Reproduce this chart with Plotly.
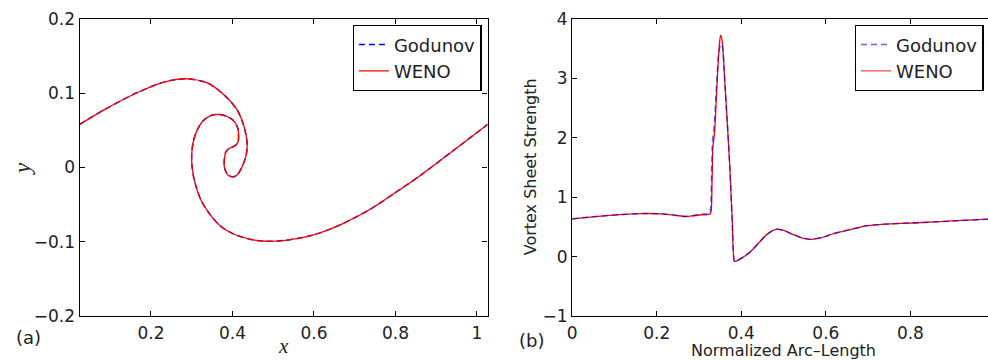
import plotly.graph_objects as go

# ---------------- data: panel (a) vortex sheet position ----------------
sheet_x = [0.025, 0.086, 0.167, 0.232, 0.285, 0.338, 0.379, 0.411, 0.428, 0.436,
           0.434, 0.423, 0.413, 0.403, 0.391, 0.385, 0.380, 0.380, 0.383, 0.390,
           0.400, 0.408, 0.414, 0.415, 0.414, 0.410, 0.401, 0.386, 0.368, 0.347,
           0.328, 0.314, 0.304, 0.300, 0.301, 0.306, 0.322, 0.342, 0.371, 0.403,
           0.442, 0.484, 0.525, 0.574, 0.615, 0.671, 0.737, 0.793, 0.8585, 0.94, 1.026]
sheet_y = [0.058, 0.078, 0.101, 0.115, 0.1195, 0.114, 0.098, 0.078, 0.056, 0.033,
           0.0175, 0.0, -0.009, -0.0125, -0.011, -0.007, 0.0013, 0.0094, 0.0198, 0.025,
           0.0276, 0.030, 0.035, 0.042, 0.051, 0.057, 0.064, 0.069, 0.0714, 0.070,
           0.063, 0.051, 0.035, 0.0175, 0.0013, -0.016, -0.043, -0.061, -0.079, -0.0896,
           -0.0966, -0.0993, -0.0984, -0.0942, -0.088, -0.0755, -0.0566, -0.0364, -0.0117, 0.022, 0.058]

# ---------------- data: panel (b) vortex sheet strength ----------------
arc_weno = [0.0, 0.055, 0.11, 0.165, 0.212, 0.245, 0.267, 0.285, 0.30, 0.326,
            0.329, 0.331, 0.333, 0.337, 0.343, 0.348, 0.351, 0.355, 0.361, 0.367,
            0.373, 0.379, 0.384, 0.39, 0.40, 0.42, 0.44, 0.46, 0.482, 0.50,
            0.52, 0.541, 0.562, 0.59, 0.62, 0.66, 0.698, 0.75, 0.816, 0.90, 0.984]
gamma_weno = [0.635, 0.674, 0.705, 0.725, 0.72, 0.695, 0.675, 0.685, 0.70, 0.715,
              0.78, 1.3, 1.85, 2.1, 2.95, 3.55, 3.73, 3.62, 2.95, 2.25,
              1.50, 0.55, -0.08, -0.07, -0.03, 0.07, 0.22, 0.37, 0.46, 0.44,
              0.38, 0.32, 0.29, 0.32, 0.39, 0.46, 0.52, 0.55, 0.57, 0.60, 0.63]

arc_godunov = [0.0, 0.055, 0.11, 0.165, 0.212, 0.245, 0.267, 0.285, 0.30, 0.325,
               0.328, 0.330, 0.332, 0.336, 0.342, 0.347, 0.352, 0.356, 0.361, 0.367,
               0.373, 0.379, 0.384, 0.39, 0.40, 0.42, 0.44, 0.46, 0.482, 0.50,
               0.52, 0.541, 0.562, 0.59, 0.62, 0.66, 0.698, 0.75, 0.816, 0.90, 0.984]
gamma_godunov = [0.635, 0.674, 0.705, 0.725, 0.72, 0.695, 0.675, 0.69, 0.715, 0.73,
                 0.85, 1.45, 1.95, 2.2, 2.95, 3.45, 3.58, 3.52, 2.95, 2.25,
                 1.50, 0.55, -0.08, -0.07, -0.03, 0.07, 0.22, 0.37, 0.46, 0.44,
                 0.38, 0.32, 0.29, 0.32, 0.39, 0.46, 0.52, 0.55, 0.57, 0.60, 0.63]

x_ticks_a = [0.2, 0.4, 0.6, 0.8, 1.0]
y_ticks_a = [-0.2, -0.1, 0, 0.1, 0.2]
x_ticks_b = [0, 0.2, 0.4, 0.6, 0.8]
y_ticks_b = [-1, 0, 1, 2, 3, 4]

BLUE = "#0000ff"
RED = "#ff0000"
FONT = "DejaVu Sans"
W, H = 988, 360
TOP, BOT = 19, 316          # plot area top / bottom in pixels
PH = BOT - TOP


def py(pix):
    """pixel row -> paper y (paper is relative to the plot area)"""
    return (BOT - pix) / PH


fig = go.Figure()

# panel (a)
fig.add_trace(go.Scatter(x=sheet_x, y=sheet_y, mode="lines", name="Godunov",
                         line=dict(color=BLUE, width=1.5, dash="6px,4px", shape="spline", smoothing=0.8),
                         xaxis="x", yaxis="y", legend="legend"))
fig.add_trace(go.Scatter(x=sheet_x, y=sheet_y, mode="lines", name="WENO",
                         line=dict(color=RED, width=1.3, shape="spline", smoothing=0.8),
                         xaxis="x", yaxis="y", legend="legend"))
# panel (b)
fig.add_trace(go.Scatter(x=arc_weno, y=gamma_weno, mode="lines", name="WENO",
                         line=dict(color=RED, width=1.3, shape="spline", smoothing=0.6),
                         xaxis="x2", yaxis="y2", legend="legend2", showlegend=False))
fig.add_trace(go.Scatter(x=arc_godunov, y=gamma_godunov, mode="lines", name="Godunov",
                         line=dict(color=BLUE, width=1.5, dash="6px,4px", shape="spline", smoothing=0.6),
                         opacity=0.6, xaxis="x2", yaxis="y2", legend="legend2"))
fig.add_trace(go.Scatter(x=[None], y=[None], mode="lines", name="WENO",
                         line=dict(color=RED, width=1.3), opacity=0.7,
                         xaxis="x2", yaxis="y2", legend="legend2"))

axis_common = dict(showline=True, linecolor="black", linewidth=1.3, ticks="inside",
                   ticklen=5, tickcolor="black", tickwidth=1, showgrid=False, zeroline=False,
                   tickfont=dict(family=FONT, size=17, color="#222"))

legend_common = dict(bordercolor="black", borderwidth=1.3, bgcolor="white",
                     font=dict(family=FONT, size=18, color="#222"), tracegroupgap=0,
                     itemwidth=30)


def label(text, xpix, ypix, size, family=FONT, angle=0):
    return dict(text=text, x=xpix / W, y=py(ypix), xref="paper", yref="paper",
                xanchor="center", yanchor="middle", showarrow=False, textangle=angle,
                font=dict(family=family, size=size, color="#222"))


fig.update_layout(
    width=W, height=H,
    margin=dict(l=0, r=0, t=TOP, b=H - BOT),
    paper_bgcolor="white", plot_bgcolor="white",
    showlegend=True,
    xaxis=dict(domain=[75 / W, 485 / W], range=[0.025, 1.026], tickvals=x_ticks_a,
               ticktext=["0.2", "0.4", "0.6", "0.8", "1"], mirror="ticks", anchor="y",
               ticklabelstandoff=1, **axis_common),
    yaxis=dict(domain=[0, 1], range=[-0.2, 0.2], tickvals=y_ticks_a,
               ticktext=["\u22120.2", "\u22120.1", "0", "0.1", "0.2"], mirror="ticks", anchor="x",
               **axis_common),
    xaxis2=dict(domain=[570 / W, 1.0], range=[0, 0.9835], tickvals=x_ticks_b,
                ticktext=["0", "0.2", "0.4", "0.6", "0.8"], mirror="ticks", anchor="y2",
                ticklabelstandoff=1, **axis_common),
    yaxis2=dict(domain=[0, 1], range=[-1, 4], tickvals=y_ticks_b,
                ticktext=["\u22121", "0", "1", "2", "3", "4"], mirror=False, anchor="x2",
                **axis_common),
    legend=dict(x=479 / W, y=py(25), xanchor="right", yanchor="top", **legend_common),
    legend2=dict(x=854 / W, y=py(25), xanchor="left", yanchor="top", **legend_common),
    annotations=[
        label("(a)", 24, 337, 18),
        label("(b)", 529, 340, 18),
        label("<i>x</i>", 280, 346, 21, family="Liberation Serif"),
        label("<i>y</i>", 17, 168, 23, family="Liberation Serif", angle=-90),
        label("Normalized Arc\u2013Length", 782, 350, 16),
        label("Vortex Sheet Strength", 528, 167, 16, angle=-90),
    ],
)

fig.write_html("out.html")
